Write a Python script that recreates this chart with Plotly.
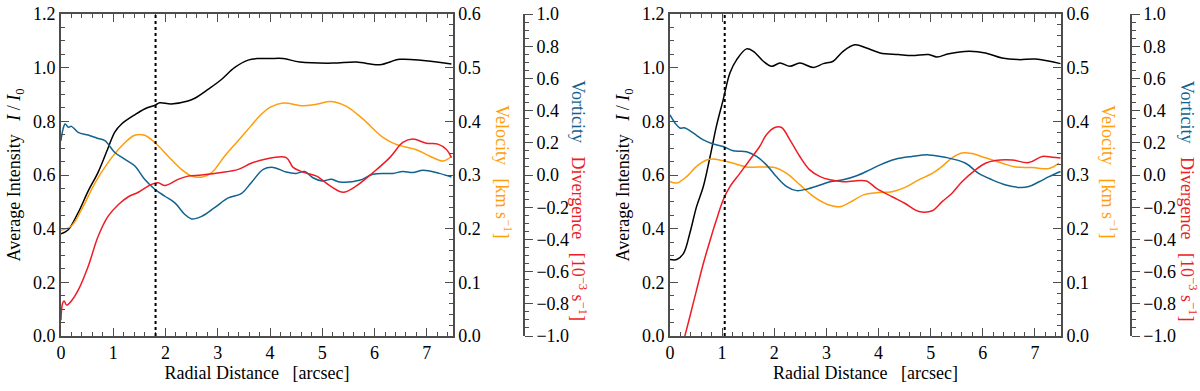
import plotly.graph_objects as go

# ---------------- left panel ----------------
int_a_x = [0, 0.14, 0.33, 0.52, 0.71, 0.9, 1.03, 1.16, 1.41, 1.6, 1.81, 1.89, 2.11, 2.43, 2.56,
           2.82, 3.07, 3.32, 3.58, 3.77, 4.0, 4.25, 4.57, 5.2, 5.65, 6.1, 6.48, 6.93, 7.47]
int_a_y = [0.381, 0.396, 0.46, 0.54, 0.61, 0.70, 0.76, 0.79, 0.824, 0.846, 0.861, 0.869, 0.865,
           0.876, 0.886, 0.92, 0.956, 1.0, 1.028, 1.034, 1.034, 1.034, 1.021, 1.017, 1.021, 1.011,
           1.031, 1.027, 1.014]

vel_a_x = [0, 0.2, 0.39, 0.65, 0.9, 1.16, 1.41, 1.6, 1.8, 2.05, 2.31, 2.5, 2.69, 2.88, 3.13, 3.39,
           3.64, 3.8, 4.0, 4.25, 4.63, 4.89, 5.17, 5.46, 5.78, 6.16, 6.41, 6.8, 7.06, 7.31, 7.47]
vel_a_y = [0.197, 0.205, 0.235, 0.285, 0.323, 0.354, 0.374, 0.374, 0.36, 0.335, 0.31, 0.298, 0.296,
           0.304, 0.335, 0.364, 0.392, 0.41, 0.426, 0.434, 0.429, 0.432, 0.437, 0.428, 0.404, 0.37,
           0.357, 0.347, 0.335, 0.326, 0.335]

div_a_x = [0, 0.03, 0.06, 0.11, 0.20, 0.33, 0.52, 0.71, 0.9, 1.1, 1.29, 1.48, 1.73, 1.86, 1.99,
           2.24, 2.43, 2.69, 3.07, 3.39, 3.64, 3.9, 4.31, 4.44, 4.63, 4.89, 5.15, 5.4, 5.65, 5.97,
           6.29, 6.54, 6.73, 6.99, 7.21, 7.37, 7.47]
div_a_y = [-0.902, -0.798, -0.782, -0.808, -0.782, -0.715, -0.568, -0.382, -0.257, -0.183, -0.135,
           -0.107, -0.058, -0.048, -0.065, -0.027, -0.007, 0.0, 0.015, 0.035, 0.073, 0.098, 0.108,
           0.047, 0.018, -0.007, -0.068, -0.107, -0.068, 0.015, 0.108, 0.202, 0.223, 0.197, 0.192,
           0.16, 0.108]

vor_a_x = [0, 0.04, 0.08, 0.14, 0.20, 0.33, 0.52, 0.71, 0.84, 1.03, 1.22, 1.41, 1.6, 1.8, 1.99,
           2.18, 2.37, 2.5, 2.69, 2.94, 3.2, 3.45, 3.64, 3.87, 4.06, 4.31, 4.5, 4.66, 4.82, 5.0,
           5.17, 5.33, 5.71, 5.97, 6.35, 6.54, 6.73, 6.93, 7.24, 7.47]
vor_a_y = [0.2125, 0.285, 0.317, 0.297, 0.302, 0.265, 0.248, 0.227, 0.213, 0.14, 0.098, 0.057,
           -0.027, -0.09, -0.132, -0.173, -0.245, -0.273, -0.257, -0.203, -0.142, -0.115, -0.048,
           0.035, 0.047, 0.018, 0.01, 0.022, -0.017, -0.037, -0.027, -0.043, -0.033, 0.005, 0.01,
           0.022, 0.015, 0.03, 0.01, -0.012]

# ---------------- right panel ----------------
int_b_x = [0, 0.13, 0.26, 0.38, 0.51, 0.64, 0.77, 0.89, 1.02, 1.15, 1.28, 1.47, 1.6, 1.79, 1.95,
           2.11, 2.3, 2.49, 2.75, 2.94, 3.13, 3.32, 3.55, 3.77, 4.03, 4.38, 4.64, 4.96, 5.12, 5.35,
           5.73, 6.05, 6.37, 6.69, 7.01, 7.49]
int_b_y = [0.285, 0.285, 0.308, 0.382, 0.482, 0.557, 0.669, 0.781, 0.88, 0.98, 1.03, 1.07, 1.061,
           1.024, 1.005, 1.017, 1.005, 1.017, 1.001, 1.015, 1.024, 1.061, 1.085, 1.073, 1.055,
           1.049, 1.045, 1.049, 1.04, 1.052, 1.061, 1.055, 1.036, 1.03, 1.032, 1.015]

vel_b_x = [0, 0.13, 0.32, 0.51, 0.7, 0.83, 1.09, 1.28, 1.47, 1.85, 2.04, 2.24, 2.49, 2.75, 3.0,
           3.26, 3.45, 3.71, 3.96, 4.26, 4.51, 4.77, 5.03, 5.22, 5.41, 5.6, 5.79, 6.05, 6.37, 6.63,
           6.95, 7.27, 7.46]
vel_b_y = [0.288, 0.285, 0.297, 0.316, 0.328, 0.33, 0.325, 0.32, 0.315, 0.315, 0.313, 0.303, 0.282,
           0.26, 0.246, 0.241, 0.249, 0.263, 0.267, 0.269, 0.277, 0.291, 0.303, 0.316, 0.332, 0.341,
           0.34, 0.332, 0.322, 0.315, 0.314, 0.312, 0.322]

div_b_x = [0.22, 0.38, 0.51, 0.64, 0.77, 0.89, 1.02, 1.15, 1.34, 1.53, 1.72, 1.85, 2.01, 2.14, 2.3,
           2.49, 2.68, 2.88, 3.07, 3.32, 3.58, 3.77, 3.96, 4.26, 4.51, 4.71, 4.83, 5.03, 5.22, 5.41,
           5.6, 5.86, 6.05, 6.24, 6.56, 6.88, 7.14, 7.33, 7.49]
div_b_y = [-1.083, -0.882, -0.715, -0.55, -0.405, -0.28, -0.155, -0.072, 0.01, 0.093, 0.177, 0.25,
           0.295, 0.295, 0.218, 0.115, 0.032, -0.01, -0.03, -0.042, -0.035, -0.037, -0.083, -0.135,
           -0.177, -0.218, -0.23, -0.222, -0.165, -0.113, -0.042, 0.032, 0.073, 0.09, 0.093, 0.077,
           0.115, 0.11, 0.105]

vor_b_x = [0, 0.1, 0.19, 0.29, 0.45, 0.64, 0.83, 1.02, 1.21, 1.47, 1.66, 1.85, 2.04, 2.24, 2.43,
           2.62, 2.88, 3.07, 3.32, 3.58, 3.83, 4.03, 4.32, 4.64, 4.96, 5.28, 5.67, 5.92, 6.18, 6.44,
           6.69, 6.88, 7.08, 7.27, 7.49]
vor_b_y = [0.373, 0.322, 0.292, 0.292, 0.26, 0.218, 0.193, 0.177, 0.15, 0.145, 0.115, 0.063, -0.01,
           -0.072, -0.097, -0.088, -0.062, -0.042, -0.03, -0.005, 0.032, 0.063, 0.098, 0.115, 0.125,
           0.11, 0.073, 0.01, -0.03, -0.062, -0.077, -0.072, -0.042, -0.01, 0.022]

cutoff_a = 1.81
cutoff_b = 1.05

BLACK = '#000000'
ORANGE = '#ff9d0a'
RED = '#ee1c25'
BLUE = '#11628f'
AXIS = '#4d4d4d'
FONT = 'Liberation Serif'
FS = 18

fig = go.Figure()

panels = [
    # x axis, intensity axis, velocity axis, div/vort axis, data
    ('x', 'y', 'y2', 'y3', int_a_x, int_a_y, vel_a_x, vel_a_y, div_a_x, div_a_y, vor_a_x, vor_a_y),
    ('x2', 'y4', 'y5', 'y6', int_b_x, int_b_y, vel_b_x, vel_b_y, div_b_x, div_b_y, vor_b_x, vor_b_y),
]

for (xa, ya, yv, yd, ix, iy, vx, vy, dx, dy, wx, wy) in panels:
    fig.add_trace(go.Scatter(x=vx, y=vy, xaxis=xa, yaxis=yv, mode='lines', line_shape='spline',
                             line=dict(color=ORANGE, width=1.5), name='Velocity'))
    fig.add_trace(go.Scatter(x=wx, y=wy, xaxis=xa, yaxis=yd, mode='lines', line_shape='spline',
                             line=dict(color=BLUE, width=1.5), name='Vorticity'))
    fig.add_trace(go.Scatter(x=dx, y=dy, xaxis=xa, yaxis=yd, mode='lines', line_shape='spline',
                             line=dict(color=RED, width=1.5), name='Divergence'))
    fig.add_trace(go.Scatter(x=ix, y=iy, xaxis=xa, yaxis=ya, mode='lines', line_shape='spline',
                             line=dict(color=BLACK, width=1.5), name='Intensity'))

tickfont = dict(family=FONT, size=FS, color='black')
common = dict(showline=True, linecolor=AXIS, linewidth=1.5, showgrid=False, zeroline=False,
              tickfont=tickfont, tickcolor=AXIS, ticklen=8, tickwidth=1.2, automargin=False)

xcommon = dict(common, range=[0, 7.5], dtick=1, ticks='inside', mirror='ticks',
               minor=dict(dtick=0.2, ticks='inside', ticklen=4, tickcolor=AXIS),
               title=dict(text='Radial Distance   [arcsec]',
                          font=dict(family=FONT, size=FS, color='black'), standoff=2))

ycommon = dict(common, range=[0, 1.2], dtick=0.2, tickformat='.1f', ticks='inside',
               minor=dict(dtick=0.05, ticks='inside', ticklen=4, tickcolor=AXIS),
               title=dict(text='Average Intensity   <i>I</i> / <i>I</i><sub>0</sub>',
                          font=dict(family=FONT, size=FS, color='black'), standoff=8))

vcommon = dict(common, range=[0, 0.6], dtick=0.1, tickformat='.1f', ticks='inside', side='right',
               overlaying='y', minor=dict(dtick=0.02, ticks='inside', ticklen=4, tickcolor=AXIS))

dcommon = dict(common, range=[-1, 1], dtick=0.2, tickformat='.1f', ticks='outside', side='right',
               overlaying='y', anchor='free',
               minor=dict(dtick=0.05, ticks='outside', ticklen=4, tickcolor=AXIS))

fig.update_layout(
    width=1200, height=391,
    margin=dict(l=0, r=0, t=14, b=55),
    plot_bgcolor='white', paper_bgcolor='white',
    showlegend=False,
    font=dict(family=FONT, size=FS, color='black'),
    xaxis=dict(xcommon, domain=[0.0508, 0.3775], anchor='y'),
    xaxis2=dict(xcommon, domain=[0.5583, 0.8842], anchor='y4'),
    yaxis=dict(ycommon, anchor='x'),
    yaxis2=dict(vcommon, anchor='x'),
    yaxis3=dict(dcommon, position=0.4367),
    yaxis4=dict(ycommon, anchor='x2'),
    yaxis5=dict(vcommon, anchor='x2', overlaying='y4'),
    yaxis6=dict(dcommon, position=0.9425, overlaying='y4'),
)

# dotted reference lines
for xa, ya, xc in [('x', 'y', cutoff_a), ('x2', 'y4', cutoff_b)]:
    fig.add_shape(type='line', xref=xa, yref=ya + ' domain', x0=xc, x1=xc, y0=0, y1=1,
                  line=dict(color='black', width=2, dash='dot'))

# rotated right-hand axis titles (read top to bottom)
vel_title = 'Velocity   [km s<sup>−1</sup>]'
dv_title = ('<span style="color:%s">Vorticity</span>   '
            '<span style="color:%s">Divergence   [10<sup>−3</sup> s<sup>−1</sup>]</span>' % (BLUE, RED))
for xv, xd in [(0.419, 0.482), (0.924, 0.99)]:
    fig.add_annotation(x=xv, y=0.51, xref='paper', yref='paper', xanchor='center', yanchor='middle',
                       text=vel_title, textangle=90, showarrow=False,
                       font=dict(family=FONT, size=FS, color=ORANGE))
    fig.add_annotation(x=xd, y=0.42, xref='paper', yref='paper', xanchor='center', yanchor='middle',
                       text=dv_title, textangle=90, showarrow=False,
                       font=dict(family=FONT, size=FS, color=RED))

# drop the default page margin so the figure sits at the window origin
fig.write_html('out.html', config={'displayModeBar': False},
               post_script="document.body.style.margin='0px';")
